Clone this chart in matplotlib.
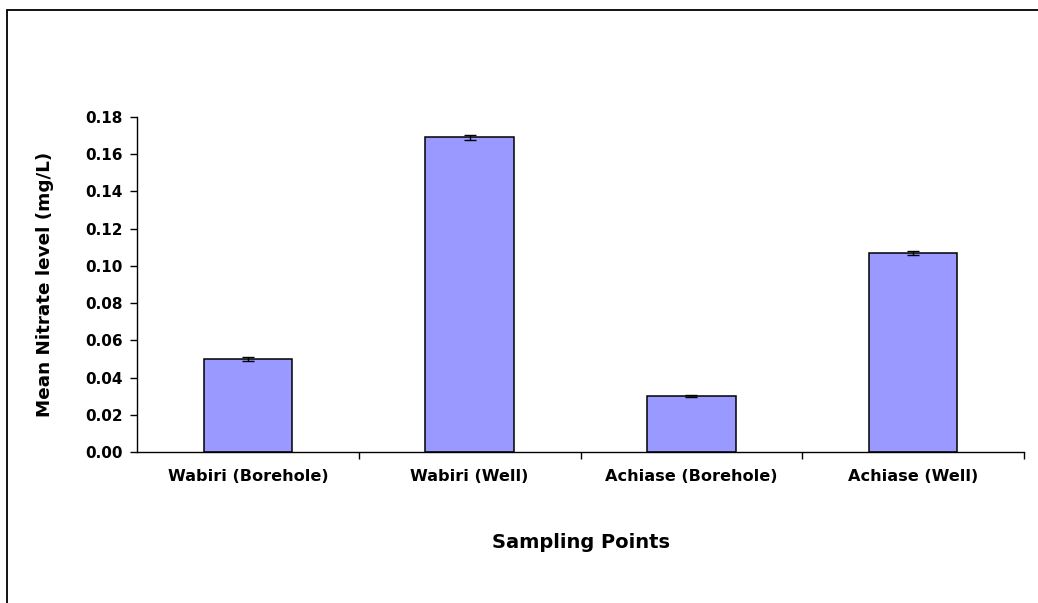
"""Mean nitrate levels at the sampling points."""

import matplotlib
matplotlib.use("Agg")
import matplotlib.pyplot as plt
from matplotlib.patches import Rectangle
from matplotlib.ticker import FormatStrFormatter, FixedLocator

sites = ["Wabiri (Borehole)", "Wabiri (Well)", "Achiase (Borehole)", "Achiase (Well)"]
nitrate_mean = [0.050, 0.169, 0.030, 0.107]
nitrate_err = [0.0012, 0.0012, 0.0005, 0.0012]

plt.rcParams["font.family"] = ["DejaVu Sans"]
plt.rcParams["font.weight"] = "bold"

W, H = 1038, 603
fig = plt.figure(figsize=(W / 100, H / 100), dpi=100)

# chart-area frame, left and top edges visible
fig.patches.append(Rectangle((7 / W, -0.1), 1.2, 1 - 10 / H + 0.1,
                             transform=fig.transFigure, fill=False,
                             edgecolor="black", linewidth=1.3))

ax = fig.add_axes([137 / W, 1 - 452 / H, (1024 - 137) / W, (452 - 117) / H])

x = list(range(len(sites)))
ax.bar(x, nitrate_mean, width=0.4, color="#9999FF", edgecolor="black",
       linewidth=1.1, zorder=2)
ax.errorbar(x, nitrate_mean, yerr=nitrate_err, fmt="none", ecolor="black",
            elinewidth=1.0, capsize=4.5, capthick=1.0, zorder=3)

ax.set_xlim(-0.5, len(sites) - 0.5)
ax.set_ylim(0, 0.18)
ax.set_yticks([i * 0.02 for i in range(10)])
ax.yaxis.set_major_formatter(FormatStrFormatter("%.2f"))

# category boundaries get the tick marks, labels sit at the centres
ax.xaxis.set_major_locator(FixedLocator([0.5, 1.5, 2.5, 3.5]))
ax.set_xticklabels([])
ax.xaxis.set_minor_locator(FixedLocator(x))
ax.set_xticklabels(sites, minor=True)
ax.tick_params(axis="x", which="minor", length=0, pad=12.5, labelsize=11.6)
ax.tick_params(axis="x", which="major", length=5, width=1, direction="out")
ax.tick_params(axis="y", length=5, width=1, direction="out", labelsize=11, pad=5)

for side in ("top", "right"):
    ax.spines[side].set_visible(False)
for side in ("left", "bottom"):
    ax.spines[side].set_linewidth(1.0)

ax.set_xlabel("Sampling Points", fontsize=14, fontweight="bold", labelpad=35)
ax.set_ylabel("Mean Nitrate level (mg/L)", fontsize=13.2, fontweight="bold", labelpad=23)

fig.savefig("out.png", dpi=100, facecolor="white")
